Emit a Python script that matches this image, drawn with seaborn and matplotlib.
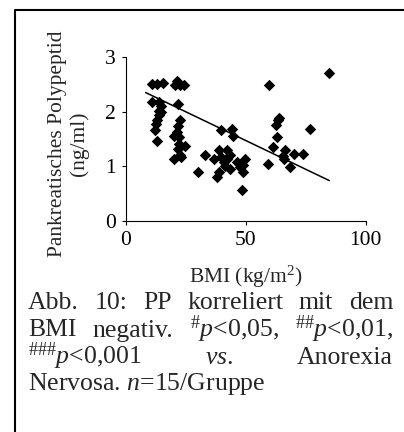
import matplotlib
matplotlib.use("Agg")
import matplotlib.pyplot as plt
import seaborn as sns
import pandas as pd
from matplotlib.lines import Line2D

# values
bmi = [10.8, 12.9, 15.6, 10.8, 13.8, 14.8, 13.8, 13.8, 13.1, 12.7, 12.4, 13.1, 14.8,
       21.4, 22.5, 24.2, 20.7, 21.7, 22.5, 21.7, 21.2, 20.1, 22.0, 22.0, 21.7, 24.9, 20.1, 22.5, 23.1,
       30.0, 33.2, 36.9, 38.0, 38.7, 38.7, 39.8, 39.5, 40.8, 41.5, 42.2, 42.2, 43.6, 44.3, 44.5,
       46.3, 47.7, 48.8, 49.8, 48.4, 43.3, 49.0,
       59.8, 59.2, 61.3, 62.9, 62.5, 64.0, 63.3, 66.4, 66.1, 65.4, 68.5, 70.1, 73.7, 76.8, 84.8]
pp = [2.51, 2.51, 2.53, 2.17, 2.17, 2.11, 2.02, 1.93, 1.84, 1.78, 1.66, 1.46, 2.00,
      2.57, 2.48, 2.48, 2.48, 2.14, 1.84, 1.73, 1.62, 1.56, 1.53, 1.41, 1.32, 1.38, 1.14, 1.20, 1.17,
      0.90, 1.20, 1.14, 0.80, 0.89, 1.29, 1.66, 1.17, 1.08, 1.00, 1.29, 1.14, 0.95, 1.69, 1.56,
      1.08, 0.98, 0.89, 1.14, 0.56, 1.20, 1.03,
      2.49, 1.04, 1.35, 1.53, 1.75, 1.89, 1.84, 1.29, 1.14, 1.18, 0.98, 1.23, 1.22, 1.69, 2.71]
trend_bmi = [8.3, 84.8]
trend_pp = [2.35, 0.74]

x_ticks = [0, 50, 100]
y_ticks = [0, 1, 2, 3]

caption_lines = [
    ["Abb.", "10:", "PP", "korreliert", "mit", "dem"],
    ["BMI", "negativ.", r"${}^{\#}p$<0,05,", r"${}^{\#\#}p$<0,01,"],
    [r"${}^{\#\#\#}p$<0,001", r"$vs$.", "Anorexia"],
    [r"Nervosa. $n$=15/Gruppe"],
]

sns.set_style("ticks")
plt.rcParams["font.family"] = ["Liberation Serif", "DejaVu Serif"]
plt.rcParams["mathtext.fontset"] = "custom"
plt.rcParams["mathtext.rm"] = "Liberation Serif"
plt.rcParams["mathtext.it"] = "Liberation Serif:italic"
plt.rcParams["mathtext.bf"] = "Liberation Serif:bold"

fig = plt.figure(figsize=(4.04, 4.32), dpi=100)
ax = fig.add_axes([125.7 / 404, 1 - 221 / 432, 240 / 404, 164 / 432])

df = pd.DataFrame({"bmi": bmi, "pp": pp})
sns.scatterplot(data=df, x="bmi", y="pp", marker="D", color="black", s=34,
                linewidth=0, ax=ax)
sns.lineplot(x=trend_bmi, y=trend_pp, color="black", linewidth=1.1, ax=ax)

ax.set_xlim(0, 100)
ax.set_ylim(0, 3)
ax.set_xticks(x_ticks)
ax.set_yticks(y_ticks)
sns.despine(ax=ax)
for sp in ["left", "bottom"]:
    ax.spines[sp].set_linewidth(0.8)
    ax.spines[sp].set_color("black")
ax.tick_params(axis="both", length=3, width=0.8, labelsize=15.5, pad=4, colors="black")

ax.set_xlabel(r"BMI (kg/m$^2$)", fontsize=15.5)
ax.set_ylabel("Pankreatisches Polypeptid\n(ng/ml)", fontsize=15.5, linespacing=1.1)
ax.xaxis.set_label_coords(0.5, -0.26)
ax.yaxis.set_label_coords(-0.155, 0.47)

# frame around figure (left and top only)
fig.add_artist(Line2D([15 / 404, 15 / 404, 1.0], [0.0, 1 - 10 / 432, 1 - 10 / 432],
                      transform=fig.transFigure, color="black", linewidth=1.5))

# justified caption
left_px, right_px = 28, 393
baselines = [309, 336.5, 364, 390]
fig.canvas.draw()
renderer = fig.canvas.get_renderer()
for i, words in enumerate(caption_lines):
    y = 1 - baselines[i] / 432
    texts = [fig.text(0, y, w, fontsize=18.5, va="baseline", ha="left") for w in words]
    widths = [t.get_window_extent(renderer).width for t in texts]
    if len(words) == 1:
        texts[0].set_x(left_px / 404)
        continue
    gap = (right_px - left_px - sum(widths)) / (len(words) - 1)
    x = left_px
    for t, w in zip(texts, widths):
        t.set_x(x / 404)
        x += w + gap

fig.savefig("out.png", dpi=100)
